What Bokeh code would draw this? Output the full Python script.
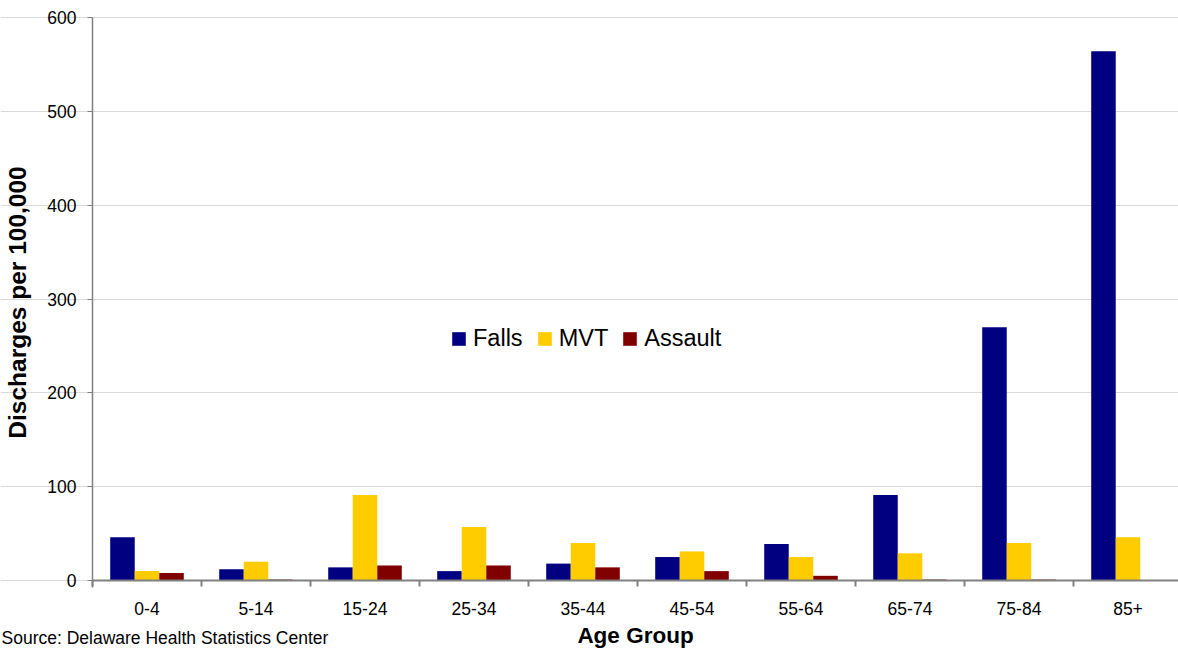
import math
from bokeh.plotting import figure
from bokeh.models import Range1d, FixedTicker, Label
from bokeh.embed import file_html
from bokeh.resources import INLINE

age_groups = ["0-4", "5-14", "15-24", "25-34", "35-44", "45-54", "55-64", "65-74", "75-84", "85+"]
falls = [46, 12, 14, 10, 18, 25, 39, 91, 270, 564]
mvt = [10, 20, 91, 57, 40, 31, 25, 29, 40, 46]
assault = [8, 1, 16, 16, 14, 10, 5, 1, 1, 0]
y_ticks = [0, 100, 200, 300, 400, 500, 600]

FONT = "Liberation Sans"
BAR_W = 0.225
PX_X = 109.0          # pixels per category
PX_Y = 563.0 / 600.0  # pixels per unit
W, H = 1178, 648
LEFT, TOP, ZERO_Y = 92, 17, 580

x_start = -LEFT / PX_X
x_end = (W - LEFT) / PX_X
y_start = -(H - ZERO_Y) / PX_Y
y_end = 600 + TOP / PX_Y

p = figure(width=W, height=H, output_backend="svg", toolbar_location=None,
           x_range=Range1d(x_start, x_end), y_range=Range1d(y_start, y_end),
           min_border_left=0, min_border_right=0, min_border_top=0, min_border_bottom=0)
p.outline_line_color = None
p.background_fill_color = "white"
p.border_fill_color = "white"

centers = [i + 0.5 for i in range(len(age_groups))]
series = [(falls, "#000080", "Falls", -BAR_W), (mvt, "#FFCC00", "MVT", 0.0), (assault, "#800000", "Assault", BAR_W)]
for vals, col, name, off in series:
    p.vbar(x=[c + off for c in centers], top=vals, width=BAR_W, fill_color=col,
           line_color=None, legend_label=name)

# x axis
xa = p.xaxis[0]
xa.fixed_location = 0
xa.bounds = (0, x_end)
xa.ticker = FixedTicker(ticks=centers, minor_ticks=list(range(len(age_groups) + 1)))
xa.major_label_overrides = {c: lab for c, lab in zip(centers, age_groups)}
xa.major_tick_out = 0
xa.major_tick_in = 0
xa.minor_tick_out = 6
xa.minor_tick_in = 0
xa.minor_tick_line_color = "#808080"
xa.minor_tick_line_width = 2
xa.axis_line_color = "#808080"
xa.axis_line_width = 2
xa.major_label_standoff = 15
xa.major_label_text_font = FONT
xa.major_label_text_font_size = "17.5px"
xa.major_label_text_color = "black"
xa.axis_label = "Age Group"
xa.axis_label_standoff = 5
xa.axis_label_text_font = FONT
xa.axis_label_text_font_style = "bold"
xa.axis_label_text_font_size = "22.5px"
xa.axis_label_text_color = "black"

# y axis
ya = p.yaxis[0]
ya.fixed_location = 0
ya.bounds = (-7, 600)
ya.ticker = FixedTicker(ticks=y_ticks)
ya.major_tick_out = 5
ya.major_tick_in = 0
ya.minor_tick_out = 0
ya.minor_tick_in = 0
ya.major_tick_line_color = "#808080"
ya.axis_line_color = "#808080"
ya.axis_line_width = 1.5
ya.major_label_standoff = 11
ya.major_label_text_font = FONT
ya.major_label_text_font_size = "17.5px"
ya.major_label_text_color = "black"
ya.axis_label = "Discharges per 100,000"
ya.axis_label_standoff = 13
ya.axis_label_text_font = FONT
ya.axis_label_text_font_style = "bold"
ya.axis_label_text_font_size = "24.5px"
ya.axis_label_text_color = "black"

p.xgrid.grid_line_color = None
p.ygrid.grid_line_color = "#d9d9d9"
p.ygrid.grid_line_width = 1
p.ygrid.bounds = (0, x_end)

# legend
lg = p.legend[0]
lg.orientation = "horizontal"
lg.location = (450, 296)
lg.border_line_color = None
lg.background_fill_alpha = 0
lg.padding = 0
lg.margin = 0
lg.spacing = 13
lg.label_standoff = 6
lg.glyph_width = 17
lg.glyph_height = 17
lg.label_text_font = FONT
lg.label_text_font_size = "23.5px"
lg.label_text_color = "black"

# source note
p.add_layout(Label(x=(1 - LEFT) / PX_X, y=-(637 - ZERO_Y) / PX_Y,
                   text="Source:  Delaware Health Statistics Center",
                   text_align="left", text_baseline="middle",
                   text_font=FONT, text_font_size="17.5px", text_color="black"))

open("out.html", "w").write(file_html(p, INLINE))
